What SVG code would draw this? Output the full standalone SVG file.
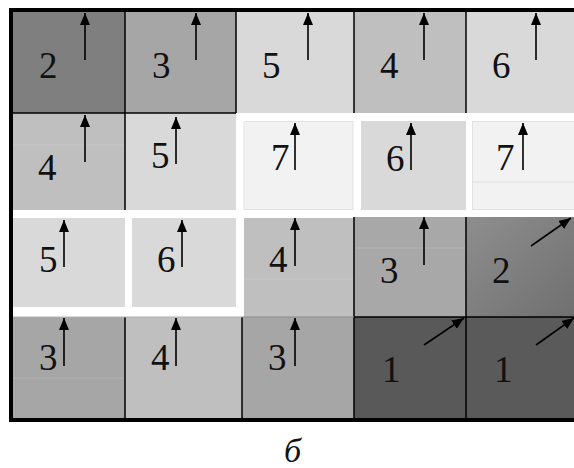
<svg xmlns="http://www.w3.org/2000/svg" width="574" height="468" viewBox="0 0 574 468">
<defs>
<style>
.n{font-family:'Liberation Serif','Times New Roman','DejaVu Serif',serif;font-size:37px;fill:#111}
.a{stroke:#000;stroke-width:1.6;fill:none;marker-end:url(#ah)}
.g{stroke:#000;stroke-width:1.5}
.f{stroke:#ffffff;stroke-opacity:0.15;stroke-width:1}
</style>
<marker id="ah" viewBox="0 0 12 10" refX="12" refY="5" markerWidth="12" markerHeight="10" markerUnits="userSpaceOnUse" orient="auto">
<path d="M0,0 L12,5 L0,10 Z" fill="#000"/>
</marker>
<linearGradient id="gr" x1="0" y1="0" x2="1" y2="1">
<stop offset="0" stop-color="#8e8e8e"/>
<stop offset="1" stop-color="#707070"/>
</linearGradient>
</defs>
<rect width="574" height="468" fill="#fff"/>

<g id="cells">
<g id="r1c1"><rect x="12" y="11" width="113" height="102" fill="#7f7f7f"/></g>
<g id="r1c2"><rect x="125" y="11" width="111" height="102" fill="#a6a6a6"/></g>
<g id="r1c3"><rect x="236" y="11" width="118" height="102" fill="#d9d9d9"/></g>
<g id="r1c4"><rect x="354" y="11" width="112" height="102" fill="#bfbfbf"/></g>
<g id="r1c5"><rect x="466" y="11" width="108" height="102" fill="#d9d9d9"/></g>

<g id="r2c1"><rect x="12" y="113" width="113" height="97" fill="#bfbfbf"/><line class="f" x1="12" y1="145" x2="125" y2="145"/></g>
<g id="r2c2"><rect x="125" y="113" width="111" height="97" fill="#d9d9d9"/></g>
<g id="r2c3"><rect x="244" y="121.5" width="109" height="88" fill="#f2f2f2" stroke="#e2e2e2"/></g>
<g id="r2c4"><rect x="361" y="121" width="105" height="89" fill="#d9d9d9"/></g>
<g id="r2c5"><rect x="472.5" y="121.5" width="102" height="88" fill="#f2f2f2" stroke="#e2e2e2"/><line x1="472" y1="182" x2="574" y2="182" stroke="#e0e0e0"/></g>

<g id="r3c1"><rect x="12" y="218" width="113" height="89" fill="#d9d9d9"/></g>
<g id="r3c2"><rect x="132" y="218" width="104" height="89" fill="#d9d9d9"/></g>
<g id="r3c3"><rect x="244" y="218" width="110" height="99" fill="#bfbfbf"/><line class="f" x1="244" y1="279" x2="354" y2="279"/></g>
<g id="r3c4"><rect x="354" y="217" width="112" height="100" fill="#a8a8a8"/><line class="f" x1="354" y1="248" x2="466" y2="248"/></g>
<g id="r3c5"><rect x="466" y="217" width="108" height="100" fill="url(#gr)"/></g>

<g id="r4c1"><rect x="12" y="317" width="113" height="102" fill="#a6a6a6"/><line class="f" x1="12" y1="378" x2="125" y2="378"/></g>
<g id="r4c2"><rect x="125" y="317" width="117" height="102" fill="#bfbfbf"/></g>
<g id="r4c3"><rect x="242" y="317" width="112" height="102" fill="#a6a6a6"/></g>
<g id="r4c4"><rect x="354" y="317" width="112" height="102" fill="#595959"/></g>
<g id="r4c5"><rect x="466" y="317" width="108" height="102" fill="#5a5a5a"/></g>
</g>

<g id="gridlines">
<line class="g" x1="125" y1="11" x2="125" y2="210"/>
<line class="g" x1="236" y1="11" x2="236" y2="113"/>
<line class="g" x1="354" y1="11" x2="354" y2="113"/>
<line class="g" x1="466" y1="11" x2="466" y2="113"/>
<line class="g" x1="12" y1="113" x2="236" y2="113"/>
<line class="g" x1="354" y1="217" x2="354" y2="419"/>
<line class="g" x1="466" y1="217" x2="466" y2="419"/>
<line class="g" x1="354" y1="317" x2="574" y2="317"/>
<line class="g" x1="125" y1="317" x2="125" y2="419"/>
<line class="g" x1="242" y1="317" x2="242" y2="419"/>
<line x1="242" y1="317" x2="354" y2="317" stroke="#8a8a8a"/>
<line x1="12" y1="317" x2="242" y2="317" stroke="#b0b0b0"/>
<rect x="9" y="8" width="565" height="4" fill="#000"/>
<rect x="9" y="418" width="565" height="4" fill="#000"/>
<rect x="9" y="8" width="4" height="414" fill="#000"/>
</g>

<g id="labels">
<text class="n" x="39" y="78">2</text>
<text class="n" x="152" y="78">3</text>
<text class="n" x="262" y="78">5</text>
<text class="n" x="380" y="78">4</text>
<text class="n" x="492" y="78">6</text>
<text class="n" x="38" y="180">4</text>
<text class="n" x="151" y="168">5</text>
<text class="n" x="271" y="170">7</text>
<text class="n" x="386" y="171">6</text>
<text class="n" x="496" y="170">7</text>
<text class="n" x="39" y="272">5</text>
<text class="n" x="157" y="272">6</text>
<text class="n" x="269" y="272">4</text>
<text class="n" x="380" y="283">3</text>
<text class="n" x="492" y="283">2</text>
<text class="n" x="39" y="370">3</text>
<text class="n" x="151" y="370">4</text>
<text class="n" x="268" y="370">3</text>
<text class="n" x="382" y="382">1</text>
<text class="n" x="494" y="382">1</text>
<text x="284" y="462" style="font-family:'Liberation Serif','Times New Roman','DejaVu Serif',serif;font-size:34px;font-style:italic;fill:#111">б</text>
</g>

<g id="connectors">
<line class="a" x1="85" y1="60" x2="85" y2="13"/>
<line class="a" x1="196" y1="60" x2="196" y2="13"/>
<line class="a" x1="308" y1="60" x2="308" y2="13"/>
<line class="a" x1="424" y1="60" x2="424" y2="13"/>
<line class="a" x1="536" y1="60" x2="536" y2="13"/>
<line class="a" x1="85" y1="162" x2="85" y2="115"/>
<line class="a" x1="176" y1="164" x2="176" y2="117"/>
<line class="a" x1="295" y1="170" x2="295" y2="123"/>
<line class="a" x1="411" y1="170" x2="411" y2="123"/>
<line class="a" x1="523" y1="170" x2="523" y2="123"/>
<line class="a" x1="64" y1="267" x2="64" y2="220"/>
<line class="a" x1="182" y1="267" x2="182" y2="220"/>
<line class="a" x1="295" y1="266" x2="295" y2="218"/>
<line class="a" x1="424" y1="265" x2="424" y2="217"/>
<line class="a" x1="531" y1="246" x2="571" y2="218"/>
<line class="a" x1="64" y1="366" x2="64" y2="318"/>
<line class="a" x1="176" y1="366" x2="176" y2="318"/>
<line class="a" x1="295" y1="366" x2="295" y2="318"/>
<line class="a" x1="424" y1="345" x2="464" y2="318"/>
<line class="a" x1="536" y1="345" x2="574" y2="318"/>
</g>
</svg>
